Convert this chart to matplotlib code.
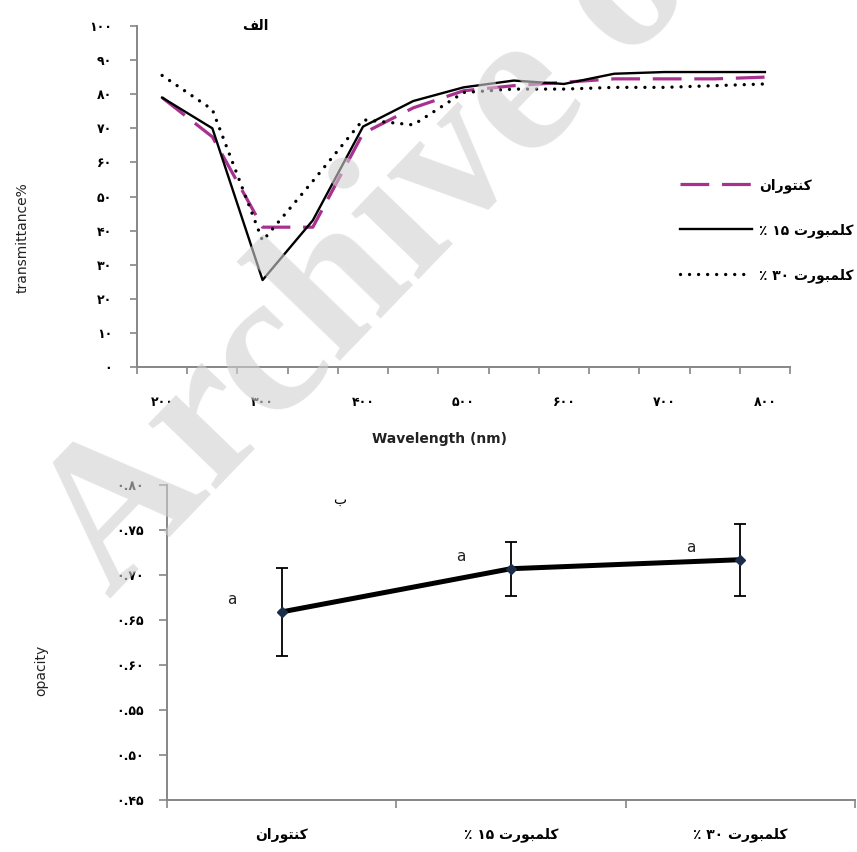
import matplotlib
matplotlib.use("Agg")
import matplotlib.pyplot as plt
import numpy as np

plt.rcParams['font.family'] = ['DejaVu Sans']

# top chart: transmittance vs wavelength
wavelength = [200, 250, 300, 350, 400, 450, 500, 550, 600, 650, 700, 750, 800]
control = [79, 67.5, 41, 41, 68.5, 76, 81, 82.5, 83.5, 84.5, 84.5, 84.5, 85]
film15 = [79, 70, 25.5, 43, 70.5, 78, 82, 84, 83, 86, 86.5, 86.5, 86.5]
film30 = [85.5, 75.5, 37, 54.5, 72.5, 71, 80.5, 81.5, 81.5, 82, 82, 82.5, 83]
series_names = ['کنتوران', 'کلمبورت ۱۵ ٪', 'کلمبورت ۳۰ ٪']

# bottom chart: opacity
opacity = [0.659, 0.707, 0.717]
opacity_err = [0.049, 0.030, 0.040]
opacity_groups = ['a', 'a', 'a']

PERSIAN = str.maketrans('0123456789', '۰۱۲۳۴۵۶۷۸۹')

# arabic letter forms: isolated, final, initial, medial
FORMS = {
    'ا': ('\uFE8D', '\uFE8E', None, None),
    'ب': ('\uFE8F', '\uFE90', '\uFE91', '\uFE92'),
    'ت': ('\uFE95', '\uFE96', '\uFE97', '\uFE98'),
    'ر': ('\uFEAD', '\uFEAE', None, None),
    'ف': ('\uFED1', '\uFED2', '\uFED3', '\uFED4'),
    'ک': ('\uFB8E', '\uFB8F', '\uFB90', '\uFB91'),
    'ل': ('\uFEDD', '\uFEDE', '\uFEDF', '\uFEE0'),
    'م': ('\uFEE1', '\uFEE2', '\uFEE3', '\uFEE4'),
    'ن': ('\uFEE5', '\uFEE6', '\uFEE7', '\uFEE8'),
    'و': ('\uFEED', '\uFEEE', None, None),
}


def shape_word(word):
    if not all(ch in FORMS for ch in word):
        return word
    out = []
    for i, ch in enumerate(word):
        iso, fin, ini, med = FORMS[ch]
        joins_prev = i > 0 and FORMS[word[i - 1]][2] is not None
        joins_next = i + 1 < len(word) and ini is not None
        if joins_prev and joins_next:
            out.append(med)
        elif joins_prev:
            out.append(fin)
        elif joins_next:
            out.append(ini)
        else:
            out.append(iso)
    return ''.join(reversed(out))


def rtl(text):
    # visual order for a right-to-left label
    return ' '.join(shape_word(t) for t in reversed(text.split(' ')))


GRAY = '#868686'
PINK = '#A8308F'

fig = plt.figure(figsize=(8.57, 8.52), dpi=100)

# ---------- top chart ----------
ax1 = fig.add_axes([137 / 857, 1 - 367 / 852, 653 / 857, 341 / 852])
x = np.arange(len(wavelength))
ax1.plot(x, control, color=PINK, lw=2.3, linestyle=(0, (9, 4)), label=rtl(series_names[0]))
ax1.plot(x, film15, color='black', lw=1.7, label=rtl(series_names[1]))
ax1.plot(x, film30, color='black', lw=2.4, linestyle=(0, (0.01, 2.7)),
         dash_capstyle='round', label=rtl(series_names[2]))

ax1.set_xlim(-0.5, len(wavelength) - 0.5)
ax1.set_ylim(0, 100)
ax1.set_xticks(np.arange(-0.5, len(wavelength)), labels=[])
ax1.set_xticks(x[::2], labels=[str(w).translate(PERSIAN) for w in wavelength[::2]], minor=True)
ax1.tick_params(axis='x', which='major', length=5, color=GRAY, width=1.2)
ax1.tick_params(axis='x', which='minor', length=0, pad=21, labelsize=9)
yt = np.arange(0, 101, 10)
ax1.set_yticks(yt, labels=[str(v).translate(PERSIAN) for v in yt])
ax1.tick_params(axis='y', length=5, color=GRAY, width=1.2, pad=13, labelsize=9)
for lbl in ax1.get_xticklabels(minor=True) + ax1.get_yticklabels():
    lbl.set_fontweight('bold')

for side in ['top', 'right']:
    ax1.spines[side].set_visible(False)
for side in ['left', 'bottom']:
    ax1.spines[side].set_color(GRAY)
    ax1.spines[side].set_linewidth(1.4)

ax1.set_xlabel('Wavelength (nm)', fontsize=10, fontweight='bold', color='#222222')
ax1.xaxis.set_label_coords(0.464, -0.19)
ax1.set_ylabel('transmittance%', fontsize=10, color='#222222')
ax1.yaxis.set_label_coords(-0.164, 0.38)
ax1.text(0.181, 1.0, rtl('الف'), transform=ax1.transAxes, ha='center', va='center',
         fontsize=10, fontweight='bold')

ax1.legend(loc='upper left', bbox_to_anchor=(680 / 857, 1 - 178 / 852),
           bbox_transform=fig.transFigure, frameon=False, handlelength=5.2,
           labelspacing=2.18, borderpad=0, borderaxespad=0, handletextpad=0.5,
           prop={'size': 10, 'weight': 'bold'})

# ---------- bottom chart ----------
ax2 = fig.add_axes([167 / 857, 1 - 800 / 852, 688 / 857, 315 / 852])
xb = np.arange(len(opacity))
ax2.errorbar(xb, opacity, yerr=opacity_err, color='black', lw=3.6, ecolor='black',
             elinewidth=1.3, capsize=4.3, capthick=1.3, marker='D', markersize=5,
             markerfacecolor='#1c2d4a', markeredgecolor='#1c2d4a', zorder=3)
for xi, yi, g in zip(xb, opacity, opacity_groups):
    ax2.annotate(g, (xi, yi), xytext=(-36, 9), textcoords='offset points',
                 ha='center', va='center', fontsize=11, color='#222222')

ax2.set_xlim(-0.5, len(opacity) - 0.5)
ax2.set_ylim(0.45, 0.80)
ax2.set_xticks(np.arange(-0.5, len(opacity)), labels=[])
ax2.set_xticks(xb, labels=[rtl(s) for s in series_names], minor=True)
ax2.tick_params(axis='x', which='major', length=6, color=GRAY, width=1.2)
ax2.tick_params(axis='x', which='minor', length=0, pad=20, labelsize=10)
ytb = np.arange(0.45, 0.801, 0.05)
ax2.set_yticks(ytb, labels=[f'{v:.2f}'.translate(PERSIAN) for v in ytb])
ax2.tick_params(axis='y', length=6, color=GRAY, width=1.2, pad=11, labelsize=9)
for lbl in ax2.get_xticklabels(minor=True) + ax2.get_yticklabels():
    lbl.set_fontweight('bold')

for side in ['top', 'right']:
    ax2.spines[side].set_visible(False)
for side in ['left', 'bottom']:
    ax2.spines[side].set_color(GRAY)
    ax2.spines[side].set_linewidth(1.4)

ax2.set_ylabel('opacity', fontsize=10, color='#222222')
ax2.yaxis.set_label_coords(-0.173, 0.41)
ax2.text(0.251, 0.952, rtl('ب'), transform=ax2.transAxes, ha='center', va='center',
         fontsize=10)

# watermark
fig.text(110 / 857, 1 - 600 / 852, 'Archive of SID', rotation=46, rotation_mode='anchor',
         ha='left', va='baseline', fontsize=148, family='Liberation Serif',
         fontweight='bold', color='0.82', alpha=0.6, zorder=10)

fig.savefig('out.png', dpi=100)
